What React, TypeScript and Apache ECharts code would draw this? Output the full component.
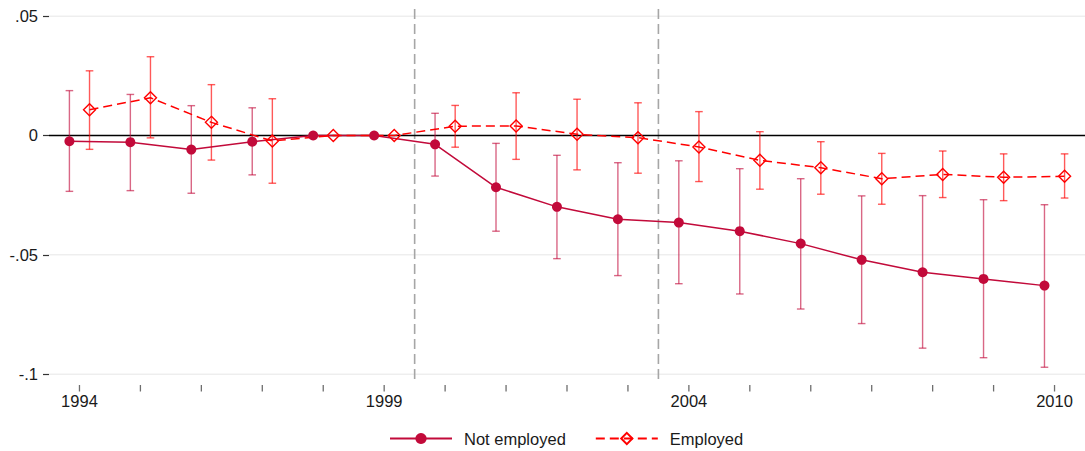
import React, { useEffect, useRef } from "react";
import * as echarts from "echarts";

const years = [1994, 1995, 1996, 1997, 1998, 1999, 2000, 2001, 2002, 2003, 2004, 2005, 2006, 2007, 2008, 2009, 2010];
const xLabelYears = [1994, 1999, 2004, 2010];
const yTicks = [-0.1, -0.05, 0, 0.05];
const gridValues = [-0.1, -0.05, 0.05];
const periodBreaks = [1999.5, 2003.5];

const neCoef = [-0.0024, -0.0028, -0.0059, -0.0026, 0, 0, -0.0037, -0.0217, -0.0299, -0.0351, -0.0365, -0.0401, -0.0453, -0.0521, -0.0573, -0.0601, -0.0629];
const neLo = [-0.0234, -0.0231, -0.0242, -0.0165, null, null, -0.017, -0.0401, -0.0516, -0.0587, -0.0621, -0.0664, -0.0727, -0.0788, -0.0891, -0.0931, -0.0971];
const neHi = [0.0188, 0.0172, 0.0125, 0.0116, null, null, 0.0093, -0.0033, -0.0083, -0.0114, -0.0106, -0.0139, -0.0181, -0.0253, -0.0252, -0.0269, -0.029];

const eCoef = [0.0108, 0.0158, 0.0055, -0.0023, 0, 0, 0.0039, 0.004, 0.0005, -0.0009, -0.0048, -0.0104, -0.0135, -0.0181, -0.0163, -0.0175, -0.0171];
const eLo = [-0.0058, -0.001, -0.0103, -0.02, null, null, -0.0049, -0.01, -0.0144, -0.0158, -0.0193, -0.0225, -0.0246, -0.0288, -0.026, -0.0273, -0.0262];
const eHi = [0.0271, 0.033, 0.0213, 0.0154, null, null, 0.0126, 0.0179, 0.0152, 0.0137, 0.01, 0.0016, -0.0026, -0.0075, -0.0065, -0.0077, -0.0077];

const NE_OFFSET = -0.165;
const E_OFFSET = 0.165;

const NE_COLOR = "#c20a3a";
const NE_CI_COLOR = "rgba(194,10,58,0.62)";
const E_COLOR = "#ff0000";
const E_CI_COLOR = "rgba(255,0,0,0.65)";
const FONT = "'Liberation Sans', Arial, Helvetica, sans-serif";

function ciData(lo: (number | null)[], hi: (number | null)[], off: number) {
  const out: number[][] = [];
  years.forEach((y, i) => {
    const l = lo[i];
    const h = hi[i];
    if (l !== null && h !== null) out.push([y + off, l, h]);
  });
  return out;
}

function ciRender(color: string) {
  return (params: any, api: any) => {
    const x = api.value(0);
    const pLo = api.coord([x, api.value(1)]);
    const pHi = api.coord([x, api.value(2)]);
    const w = 3.8;
    const style = { stroke: color, lineWidth: 1.4, fill: "none" };
    return {
      type: "group",
      children: [
        { type: "line", shape: { x1: pLo[0], y1: pLo[1], x2: pHi[0], y2: pHi[1] }, style },
        { type: "line", shape: { x1: pLo[0] - w, y1: pLo[1], x2: pLo[0] + w, y2: pLo[1] }, style },
        { type: "line", shape: { x1: pHi[0] - w, y1: pHi[1], x2: pHi[0] + w, y2: pHi[1] }, style },
      ],
    };
  };
}

export default function App() {
  const ref = useRef<HTMLDivElement>(null);

  useEffect(() => {
    document.body.style.margin = "0";
    if (!ref.current) return;
    const chart = echarts.init(ref.current, undefined, { renderer: "svg" });

    const fmtY = (v: number) => {
      if (v === 0) return "0";
      const s = String(Number(v.toFixed(4)));
      return s.replace("0.", ".");
    };

    const option: any = {
      animation: false,
      backgroundColor: "#ffffff",
      grid: { left: 49, top: 9, width: 1039, height: 374, containLabel: false },
      xAxis: {
        type: "value",
        min: 1993.5,
        max: 2010.5,
        axisLine: { show: false },
        splitLine: { show: false },
        axisTick: { show: false },
        axisLabel: {
          customValues: xLabelYears,
          formatter: (v: number) => String(v),
          margin: 9,
          fontSize: 16.5,
          color: "#1a1a1a",
          fontFamily: FONT,
        },
      },
      yAxis: {
        type: "value",
        min: -0.1037,
        max: 0.053,
        axisLine: { show: false },
        splitLine: { show: false },
        axisTick: {
          show: true,
          length: 6,
          customValues: yTicks,
          lineStyle: { color: "#333333", width: 1.2 },
        },
        axisLabel: {
          customValues: yTicks,
          formatter: fmtY,
          margin: 11,
          fontSize: 16.5,
          color: "#1a1a1a",
          fontFamily: FONT,
        },
      },
      legend: {
        data: ["Not employed", "Employed"],
        left: 384,
        top: 425,
        itemWidth: 62,
        itemHeight: 14,
        itemGap: 29,
        formatter: "{t|{name}}",
        textStyle: {
          fontSize: 16.5,
          color: "#1a1a1a",
          fontFamily: FONT,
          rich: { t: { fontSize: 16.5, color: "#1a1a1a", fontFamily: FONT, padding: [0, 0, 0, 7] } },
        },
      },
      series: [
        {
          name: "grid",
          type: "custom",
          silent: true,
          z: 0,
          data: gridValues.map((v) => [v]),
          renderItem: (params: any, api: any) => {
            const cs = params.coordSys;
            const y = api.coord([1994, api.value(0)])[1];
            return {
              type: "line",
              shape: { x1: cs.x, y1: y, x2: cs.x + cs.width, y2: y },
              style: { stroke: "#e6e6e6", lineWidth: 1 },
            };
          },
        },
        {
          name: "xticks",
          type: "custom",
          silent: true,
          z: 0,
          clip: false,
          data: years.map((v) => [v]),
          renderItem: (params: any, api: any) => {
            const cs = params.coordSys;
            const x = api.coord([api.value(0), 0])[0];
            const yb = cs.y + cs.height;
            return {
              type: "line",
              shape: { x1: x, y1: yb + 2, x2: x, y2: yb + 8.5 },
              style: { stroke: "#6e6e6e", lineWidth: 1.3 },
            };
          },
        },
        {
          name: "breaks",
          type: "custom",
          silent: true,
          z: 1,
          data: periodBreaks.map((v) => [v]),
          renderItem: (params: any, api: any) => {
            const cs = params.coordSys;
            const x = api.coord([api.value(0), 0])[0];
            return {
              type: "line",
              shape: { x1: x, y1: cs.y, x2: x, y2: cs.y + cs.height },
              style: { stroke: "#a6a6a6", lineWidth: 1.6, lineDash: [10, 5] },
            };
          },
        },
        {
          name: "zero",
          type: "custom",
          silent: true,
          z: 2,
          data: [[0]],
          renderItem: (params: any, api: any) => {
            const cs = params.coordSys;
            const y = api.coord([1994, api.value(0)])[1];
            return {
              type: "line",
              shape: { x1: cs.x, y1: y, x2: cs.x + cs.width, y2: y },
              style: { stroke: "#000000", lineWidth: 1.5 },
            };
          },
        },
        {
          name: "neCI",
          type: "custom",
          silent: true,
          z: 3,
          data: ciData(neLo, neHi, NE_OFFSET),
          renderItem: ciRender(NE_CI_COLOR),
        },
        {
          name: "eCI",
          type: "custom",
          silent: true,
          z: 3,
          data: ciData(eLo, eHi, E_OFFSET),
          renderItem: ciRender(E_CI_COLOR),
        },
        {
          name: "Not employed",
          type: "line",
          z: 5,
          data: years.map((y, i) => [y + NE_OFFSET, neCoef[i]]),
          symbol: "circle",
          symbolSize: 10,
          showSymbol: true,
          color: NE_COLOR,
          lineStyle: { color: NE_COLOR, width: 1.5 },
          itemStyle: { color: NE_COLOR },
        },
        {
          name: "Employed",
          type: "line",
          z: 5,
          data: years.map((y, i) => [y + E_OFFSET, eCoef[i]]),
          symbol: "diamond",
          symbolSize: 12,
          showSymbol: true,
          color: E_COLOR,
          lineStyle: { color: E_COLOR, width: 1.5, type: [9, 5] },
          itemStyle: { color: "rgba(255,255,255,0)", borderColor: E_COLOR, borderWidth: 1.4 },
        },
      ],
    };

    chart.setOption(option);
    return () => chart.dispose();
  }, []);

  return <div ref={ref} style={{ width: 1085, height: 451 }} />;
}
